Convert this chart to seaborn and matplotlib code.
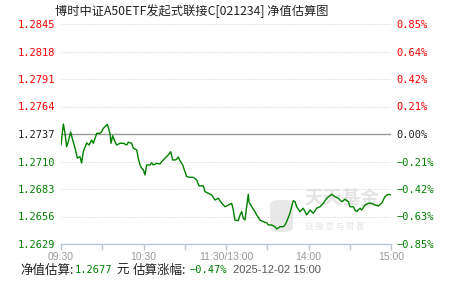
import matplotlib
matplotlib.use("Agg")
import matplotlib.pyplot as plt
import numpy as np
import pandas as pd
import seaborn as sns
from matplotlib.patches import FancyBboxPatch

# ---------------- data ----------------
title = "博时中证A50ETF发起式联接C[021234] 净值估算图"
base_nav = 1.2737
minutes = [0, 1.7, 2.9, 4.1, 5.3, 7.0, 8.5, 10.2, 11.9, 13.8,
           15.0, 16.2, 18.7, 20.4, 22.3, 23.5, 26.0, 28.4, 29.6, 30.8,
           33.7, 35.6, 36.4, 37.6, 39.3, 40.5, 42.9, 45.3, 47.8, 48.9,
           51.4, 52.6, 55.1, 56.2, 57.5, 58.7, 59.9, 61.1, 62.3, 64.7,
           66.0, 67.1, 69.6, 72.0, 73.2, 75.6, 78.0, 79.8, 81.2, 82.9,
           84.1, 85.3, 86.5, 88.5, 90.2, 91.4, 93.8, 96.2, 98.7, 100.4,
           103.5, 104.7, 107.1, 109.6, 112.0, 114.4, 116.9, 119.3, 121.7, 124.1,
           125.3, 126.5, 128.9, 130.2, 131.4, 132.6, 133.8, 135.0, 136.2, 136.7,
           138.7, 141.1, 142.3, 144.7, 147.1, 149.6, 150.8, 153.2, 155.6, 156.9,
           159.3, 161.7, 162.9, 164.1, 166.5, 168.9, 170.2, 171.4, 173.8, 176.2,
           178.7, 181.1, 183.5, 185.9, 188.4, 190.8, 193.2, 196.9, 199.3, 201.7,
           204.1, 206.5, 209.0, 210.2, 212.6, 213.8, 215.0, 217.5, 218.7, 221.1,
           223.5, 225.9, 228.4, 230.8, 233.2, 235.6, 236.9, 238.8, 240]
nav_values = [1.27262, 1.27468, 1.27380, 1.27245, 1.27294, 1.27390, 1.27311, 1.27233, 1.27134, 1.27147,
              1.27085, 1.27196, 1.27282, 1.27262, 1.27311, 1.27279, 1.27377, 1.27377, 1.27393, 1.27426,
              1.27465, 1.27377, 1.27279, 1.27353, 1.27294, 1.27262, 1.27279, 1.27279, 1.27262, 1.27289,
              1.27279, 1.27230, 1.27213, 1.27131, 1.27066, 1.27033, 1.27017, 1.26968, 1.27066, 1.27066,
              1.27088, 1.27066, 1.27082, 1.27076, 1.27098, 1.27131, 1.27164, 1.27196, 1.27115, 1.27115,
              1.27122, 1.27144, 1.27108, 1.27066, 1.27000, 1.26951, 1.26945, 1.26945, 1.26918, 1.26860,
              1.26862, 1.26804, 1.26788, 1.26771, 1.26722, 1.26739, 1.26690, 1.26656, 1.26672, 1.26690,
              1.26624, 1.26526, 1.26519, 1.26575, 1.26608, 1.26542, 1.26526, 1.26656, 1.26778, 1.26705,
              1.26656, 1.26607, 1.26575, 1.26526, 1.26509, 1.26499, 1.26477, 1.26477, 1.26460, 1.26437,
              1.26460, 1.26460, 1.26477, 1.26509, 1.26592, 1.26715, 1.26705, 1.26656, 1.26607, 1.26641,
              1.26575, 1.26624, 1.26592, 1.26641, 1.26656, 1.26690, 1.26739, 1.26778, 1.26754, 1.26739,
              1.26705, 1.26729, 1.26705, 1.26656, 1.26656, 1.26624, 1.26608, 1.26641, 1.26624, 1.26673,
              1.26690, 1.26690, 1.26673, 1.26663, 1.26690, 1.26754, 1.26771, 1.26778, 1.26770]
y_ticks = [1.2629, 1.2656, 1.2683, 1.2710, 1.2737, 1.2764, 1.2791, 1.2818, 1.2845]
left_labels = ["1.2629", "1.2656", "1.2683", "1.2710", "1.2737", "1.2764", "1.2791", "1.2818", "1.2845"]
right_labels = ["\u22120.85%", "\u22120.63%", "\u22120.42%", "\u22120.21%", "0.00%",
                "0.21%", "0.42%", "0.64%", "0.85%"]
x_major = [0, 60, 120, 180, 240]
x_minor = [30, 90, 150, 210]
x_labels = ["09:30", "10:30", "11:30/13:00", "14:00", "15:00"]
est_nav = "1.2677"
est_pct = "\u22120.47%"
date_str = "2025-12-02 15:00"

# ---------------- style ----------------
sns.set_theme(style="white")
plt.rcParams["font.family"] = ["DejaVu Sans", "Noto Sans CJK SC"]

RED = "#ff0000"
GREEN = "#008000"
BLACK = "#222222"
AXIS = "#b9c8d8"

W, H = 451, 281
fig = plt.figure(figsize=(W / 100, H / 100), dpi=100)
fig.patch.set_facecolor("white")
ax = fig.add_axes([61 / W, 1 - 244 / H, 330 / W, 220 / H])
ax.set_facecolor("white")

# grid lines
for t in y_ticks:
    if abs(t - base_nav) < 1e-9:
        ax.axhline(t, color="#999999", lw=1.0, zorder=1)
    else:
        ax.axhline(t, color="#dddddd", lw=0.8, ls=(0, (1, 1)), zorder=1)

# watermark
wm_kw = dict(transform=fig.transFigure, zorder=0.5, color="#e4e4e4")
logo = FancyBboxPatch((270 / W, 1 - 232 / H), 23 / W, 32 / H,
                      boxstyle="round,pad=0,rounding_size=0.02",
                      transform=fig.transFigure, facecolor="#e8e8e8",
                      edgecolor="none", zorder=0.4)
ax.add_artist(logo)
ax.text(304 / W, 1 - 199 / H, "天天基金", fontsize=13.5, family=["Noto Sans CJK SC"],
        fontweight="bold", ha="left", va="center", **wm_kw)
ax.text(305 / W, 1 - 226 / H, "链 接 您 与 财 富", fontsize=6, family=["Noto Sans CJK SC"],
        ha="left", va="center", **wm_kw)

df = pd.DataFrame({"minute": minutes, "nav": nav_values})
sns.lineplot(data=df, x="minute", y="nav", ax=ax, color=GREEN, lw=1.0, zorder=3)

ax.set_xlim(0, 240)
ax.set_ylim(y_ticks[0], y_ticks[-1])
ax.set_xlabel("")
ax.set_ylabel("")

# y ticks left
ax.set_yticks(y_ticks)
ax.set_yticklabels(left_labels, family="DejaVu Sans Mono", fontsize=7.5)
for lab, t in zip(ax.get_yticklabels(), y_ticks):
    lab.set_color(RED if t > base_nav + 1e-9 else (BLACK if abs(t - base_nav) < 1e-9 else GREEN))
ax.tick_params(axis="y", length=0, pad=4)

# y ticks right
ax2 = ax.twinx()
ax2.set_ylim(y_ticks[0], y_ticks[-1])
ax2.set_yticks(y_ticks)
ax2.set_yticklabels(right_labels, family="DejaVu Sans Mono", fontsize=7.5)
for lab, t in zip(ax2.get_yticklabels(), y_ticks):
    lab.set_color(RED if t > base_nav + 1e-9 else (BLACK if abs(t - base_nav) < 1e-9 else GREEN))
ax2.tick_params(axis="y", length=0, pad=4)

# x ticks
ax.set_xticks(x_major)
ax.set_xticks(x_minor, minor=True)
ax.set_xticklabels(x_labels, color="#999999", fontsize=7.5, family="Liberation Sans")
ax.tick_params(axis="x", which="both", direction="out", length=4, width=1,
               color=AXIS, pad=2, bottom=True)

for a in (ax, ax2):
    for s in ("top", "left", "right"):
        a.spines[s].set_visible(False)
    a.spines["bottom"].set_color(AXIS)
    a.spines["bottom"].set_linewidth(1)
ax2.spines["bottom"].set_visible(False)

# title
fig.text(192 / W, 1 - 11 / H, title, ha="center", va="center", fontsize=8.8,
         color=BLACK, family=["Noto Sans CJK SC"])

# bottom info line
yb = 1 - 270 / H
cjk = ["Noto Sans CJK SC"]
fig.text(20 / W, yb, "净值估算:", ha="left", va="center", fontsize=9, color=BLACK, family=cjk)
fig.text(75 / W, yb, est_nav, ha="left", va="center", fontsize=7.5, color=GREEN, family="DejaVu Sans Mono")
fig.text(116 / W, yb, "元", ha="left", va="center", fontsize=9, color=BLACK, family=cjk)
fig.text(133 / W, yb, "估算涨幅:", ha="left", va="center", fontsize=9, color=BLACK, family=cjk)
fig.text(190 / W, yb, est_pct, ha="left", va="center", fontsize=7.5, color=GREEN, family="DejaVu Sans Mono")
fig.text(233 / W, yb, date_str, ha="left", va="center", fontsize=8, color="#555555", family="Liberation Sans")

fig.savefig("out.png", dpi=100, facecolor="white")
